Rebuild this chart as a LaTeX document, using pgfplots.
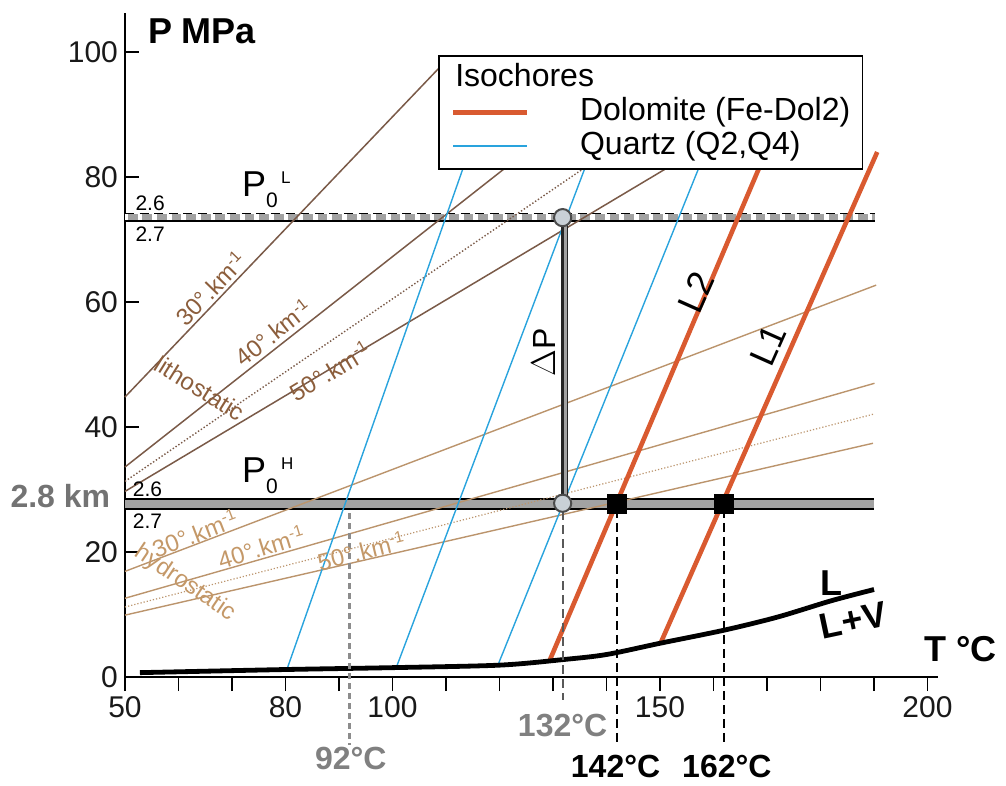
\documentclass[border=0pt]{standalone}
\usepackage{fontspec}
\setmainfont{Liberation Sans}
\usepackage{pgfplots}
\pgfplotsset{compat=1.18}

\definecolor{lith}{HTML}{7A5A48}
\definecolor{hydro}{HTML}{BB946C}
\definecolor{lithtxt}{HTML}{8C5E3C}
\definecolor{hydrotxt}{HTML}{C49868}
\definecolor{qz}{HTML}{29A3DD}
\definecolor{dol}{HTML}{D95A30}
\definecolor{band}{HTML}{A2A2A2}
\definecolor{circfill}{HTML}{C9D0D6}

\newcommand{\fs}[1]{\fontsize{#1}{#1}\selectfont}

\pgfplotsset{
    legline/.style={legend image code/.code={\draw[##1] (0pt,0pt) -- (37pt,0pt); \path (62pt,0pt);}},
    legtitle/.style={legend image code/.code={\node[anchor=west, inner sep=0pt] at (0pt,0pt) {\rlap{#1}}; \path (0pt,0pt) (62pt,0pt);}},
}

\begin{document}
\begin{tikzpicture}
\begin{axis}[
    x=2.675pt, y=3.125pt,
    xmin=50, xmax=202, ymin=0, ymax=106.3,
    axis x line=bottom, axis y line=left,
    axis line style={-, line width=0.9pt, black},
    tick align=inside,
    major tick length=7pt,
    tick style={line width=0.9pt, black},
    xtick={50,60,...,200},
    xticklabels={50,,,80,,100,,,,,150,,,,,200},
    xtick style={yshift=-7pt},
    xticklabel style={yshift=-6pt},
    ytick={0,20,...,100},
    ticklabel style={font=\fs{15}, text=black!90},
    /pgf/number format/assume math mode=true,
    clip=false,
    legend style={at={(0.385,0.936)}, anchor=north west,
        draw=black, line width=0.8pt, fill=white,
        font=\fs{16}, legend cell align=left,
        inner xsep=6pt, inner ysep=4pt, row sep=2pt,
        nodes={inner sep=0pt, text height=11.5pt, text depth=3.3pt}},
]

% legend
\addlegendimage{legtitle=Isochores}
\addlegendentry{}
\addlegendimage{dol, line width=2.6pt, legline}
\addlegendentry{Dolomite (Fe-Dol2)}
\addlegendimage{qz, line width=0.7pt, legline}
\addlegendentry{Quartz (Q2,Q4)}

% pressure bands (P0 hydrostatic / lithostatic)
\addplot[forget plot, band, line width=3.4pt] coordinates {(50,73.6) (190.2,73.6)};
\addplot[forget plot, white, line width=2.6pt, dash pattern=on 2.4pt off 4.9pt, dash phase=1pt] coordinates {(50,73.6) (190.2,73.6)};
\addplot[forget plot, black, line width=0.7pt, dash pattern=on 4.5pt off 2.8pt] coordinates {(50,74.2) (190.2,74.2)};
\addplot[forget plot, black, line width=0.9pt] coordinates {(50,73.0) (190.2,73.0)};

\addplot[forget plot, band, line width=4.6pt] coordinates {(50,27.7) (190,27.7)};
\addplot[forget plot, black, line width=0.8pt] coordinates {(50,28.5) (190,28.5)};
\addplot[forget plot, black, line width=0.8pt] coordinates {(50,26.9) (190,26.9)};

% hydrostatic gradients
\addplot[forget plot, hydro, line width=0.7pt] coordinates {(50,16.9) (190.4,62.7)};
\addplot[forget plot, hydro, line width=0.7pt] coordinates {(50,12.6) (190.1,47.0)};
\addplot[forget plot, hydro, line width=0.6pt, densely dotted] coordinates {(50,11.2) (190.1,42.1)};
\addplot[forget plot, hydro, line width=0.7pt] coordinates {(50,9.9) (189.8,37.4)};

% lithostatic gradients
\addplot[forget plot, lith, line width=0.75pt] coordinates {(50,44.8) (110,98.6)};
\addplot[forget plot, lith, line width=0.75pt] coordinates {(50,33.6) (122.5,82.4)};
\addplot[forget plot, lith, line width=0.7pt, densely dotted] coordinates {(50,31.3) (137.5,82.4)};
\addplot[forget plot, lith, line width=0.75pt] coordinates {(50,29.7) (153.2,82.4)};

% quartz isochores
\addplot[forget plot, qz, line width=0.7pt] coordinates {(80.3,1.3) (113.6,82.4)};
\addplot[forget plot, qz, line width=0.7pt] coordinates {(100.7,1.5) (136.4,82.4)};
\addplot[forget plot, qz, line width=0.7pt] coordinates {(119.7,1.9) (157.7,82.4)};

% dolomite isochores
\addplot[forget plot, dol, line width=2.3pt] coordinates {(129.4,2.7) (169,82.4)};
\addplot[forget plot, dol, line width=2.3pt] coordinates {(150.1,5.4) (190.6,84)};

% L / L+V curve
\addplot[forget plot, black, line width=2.4pt, smooth] coordinates {
    (52.8,0.7) (80,1.2) (100,1.5) (120,1.9) (132,2.8) (140,3.6)
    (150,5.4) (162,7.5) (172,9.6) (182,12.2) (190,14)};

% temperature guides
\addplot[forget plot, black!45, line width=1.5pt, dash pattern=on 3pt off 2pt] coordinates {(92,26.2) (92,-10.9)};
\addplot[forget plot, black!65, line width=1pt, dash pattern=on 4.5pt off 2.5pt] coordinates {(131.8,26.5) (131.8,-3.7)};
\addplot[forget plot, black, line width=0.9pt, dash pattern=on 4.5pt off 2.5pt] coordinates {(142,26.9) (142,-11.1)};
\addplot[forget plot, black, line width=0.9pt, dash pattern=on 4.5pt off 2.5pt] coordinates {(162,26.9) (162,-11.1)};

% Delta P bar
\addplot[forget plot, black!85, line width=3.4pt] coordinates {(132.1,72.6) (132.1,28.6)};
\addplot[forget plot, band, line width=1.7pt] coordinates {(132.3,72.6) (132.3,28.6)};

% points
\addplot[forget plot, only marks, mark=*, mark size=4.3pt,
    mark options={fill=circfill, draw=black!70, line width=1pt}] coordinates {(131.8,73.5) (131.8,27.8)};
\addplot[forget plot, only marks, mark=square*, mark size=4.8pt, black] coordinates {(142,27.7) (162,27.7)};

% labels
\node[font=\fs{18}\bfseries] at (axis cs:64.4,103.3) {P MPa};
\node[font=\fs{18}\bfseries] at (axis cs:206.2,4.4) {T °C};
\node[font=\fs{16}\bfseries, text=black!55, anchor=east, inner sep=0pt] at (axis cs:47.3,28.9) {2.8 km};

\node[anchor=base west, inner sep=0pt] at (axis cs:71.8,76.8) {\fs{18}P\raisebox{-5.5pt}{\fs{10.5}0}\hspace{1.7pt}\raisebox{6.8pt}{\fs{8.5}L}};
\node[anchor=base west, inner sep=0pt] at (axis cs:71.8,31.1) {\fs{18}P\raisebox{-5.5pt}{\fs{10.5}0}\hspace{1.7pt}\raisebox{6.8pt}{\fs{8.5}H}};
\node[font=\fs{10.5}] at (axis cs:54.7,75.8) {2.6};
\node[font=\fs{10.5}] at (axis cs:54.7,70.9) {2.7};
\node[font=\fs{10.5}] at (axis cs:54.2,30.0) {2.6};
\node[font=\fs{10.5}] at (axis cs:54.2,25.0) {2.7};

\node[font=\fs{12}, text=lithtxt, rotate=46, inner sep=1pt] at (axis cs:66.0,62.2) {30°.km\textsuperscript{-1}};
\node[font=\fs{12}, text=lithtxt, rotate=38, inner sep=1pt] at (axis cs:77.7,55.2) {40°.km\textsuperscript{-1}};
\node[font=\fs{12}, text=lithtxt, rotate=31, inner sep=1pt] at (axis cs:88.3,49.0) {50°.km\textsuperscript{-1}};
\node[font=\fs{12}, text=lithtxt, rotate=-32, inner sep=1pt] at (axis cs:64.0,46.2) {lithostatic};
\node[font=\fs{12}, text=hydrotxt, rotate=21, inner sep=1pt] at (axis cs:63.1,23.0) {30°.km\textsuperscript{-1}};
\node[font=\fs{12}, text=hydrotxt, rotate=17, inner sep=1pt] at (axis cs:75.5,20.8) {40°.km\textsuperscript{-1}};
\node[font=\fs{12}, text=hydrotxt, rotate=14, inner sep=1pt] at (axis cs:94.2,20.2) {50°.km\textsuperscript{-1}};
\node[font=\fs{12}, text=hydrotxt, rotate=-34, inner sep=1pt] at (axis cs:61.2,15.0) {hydrostatic};

\node[font=\fs{16}, rotate=90] at (axis cs:128.2,51.9) {$\Delta$P};
\node[font=\fs{18}, rotate=66] at (axis cs:156.7,61.6) {L2};
\node[font=\fs{18}, rotate=66] at (axis cs:170.2,53.1) {L1};
\node[font=\fs{18}\bfseries] at (axis cs:182,15) {L};
\node[font=\fs{18}\bfseries, rotate=12] at (axis cs:186.1,9.1) {L+V};

\node[font=\fs{16}\bfseries, text=black!50] at (axis cs:92.2,-13.1) {92°C};
\node[font=\fs{16}\bfseries, text=black!50] at (axis cs:131.8,-7.7) {132°C};
\node[font=\fs{16}\bfseries] at (axis cs:141.7,-14.35) {142°C};
\node[font=\fs{16}\bfseries] at (axis cs:162.5,-14.35) {162°C};

% page frame matching the reference proportions
\path (axis cs:26.64,-17.28) rectangle (axis cs:214.67,108.32);
\end{axis}
\end{tikzpicture}
\end{document}
